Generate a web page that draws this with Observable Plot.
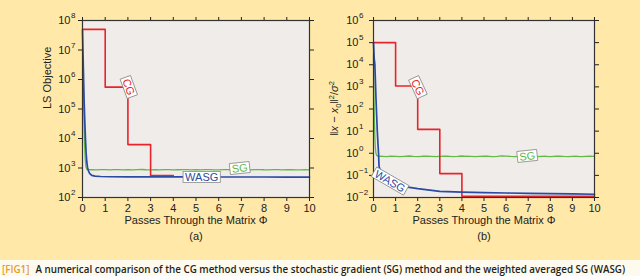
<!DOCTYPE html>
<html><head><meta charset="utf-8">
<script src="https://cdn.jsdelivr.net/npm/d3@7"></script>
<script src="https://cdn.jsdelivr.net/npm/@observablehq/plot@0.6"></script>
<style>
body{margin:0;background:#fffaee;}
#wrap{width:640px;height:276px;position:relative;overflow:hidden;}
#panels{display:flex;width:640px;height:260px;background:#ffe8a8;}
#cap{width:640px;height:16px;background:#fffaee;}
svg{display:block;}
</style></head><body>
<div id="wrap"><div id="panels"></div><div id="cap"></div></div>
<script>
// ---------- data ----------
const passTicks = [0,1,2,3,4,5,6,7,8,9,10];
const expA = [2,3,4,5,6,7,8];
const expB = [-2,-1,0,1,2,3,4,5,6];
const xLabel = "Passes Through the Matrix \u03A6";
const subLabels = ["(a)", "(b)"];
const yLabelA = "LS Objective";

// panel (a)
const cgA_x = [0,1,2,3,4];
const cgA_y = [5e7,5.5e5,6.2e3,550,550];
const wasgA_x = [0,0.02,0.04,0.07,0.1,0.13,0.16,0.19,0.22,0.26,0.32,0.41,0.55,0.8,1.2,2,3,4,5,6,7,8,9,10];
const wasgA_y = [4.6e7,1e7,2e6,2e5,4e4,1e4,3.2e3,1.6e3,1.07e3,800,650,560,530,515,505,500,500,498,497,496,495,495,494,494];
const sgA_decay_x = [0.03,0.05,0.07,0.09,0.12,0.15,0.19,0.24];
const sgA_decay_y = [1.2e6,2e5,3e4,6e3,2e3,1.1e3,900,875];
const sgA_plateau = [872,866,880,874,861,877,885,869,873,862,879,888,871,866,876,869,882,874,860,871,884,877,868,873,865,880,886,870,864,875,879,867,872,881,869,863,876,884,871,866,874,878,868,872,880,870,865,873,869];

// panel (b)
const cgB_x = [0,1,2,3,4,10];
const cgB_y = [1e5,1.1e3,12,0.12,0.0112,0.0112];
const wasgB_x = [0,0.03,0.06,0.09,0.11,0.14,0.17,0.2,0.23,0.25,0.3,0.4,0.55,0.75,1.0,1.4,2,3,4,5,6,7,8,9,10];
const wasgB_y = [1e5,2e4,1.1e4,1.5e3,350,60,11,3,0.95,0.26,0.17,0.11,0.075,0.055,0.042,0.031,0.025,0.019,0.0175,0.0165,0.016,0.0155,0.015,0.0145,0.014];
const sgB_decay_x = [0,0.01,0.02,0.04,0.06,0.08,0.11,0.15,0.2,0.26];
const sgB_decay_y = [3e4,3e3,300,40,6,2,1.0,0.8,0.74,0.72];
const sgB_plateau = [0.73,0.71,0.74,0.72,0.70,0.73,0.75,0.72,0.71,0.73,0.74,0.72,0.70,0.72,0.74,0.73,0.71,0.72,0.75,0.73,0.72,0.70,0.72,0.74,0.73,0.71,0.73,0.76,0.74,0.72,0.71,0.73,0.72,0.74,0.72,0.70,0.72,0.73,0.71,0.73,0.74,0.72,0.71,0.72,0.73,0.71,0.72,0.73,0.72];

// curve labels
const labelsA = [
  {x:2.02, y:5.5e5, text:"CG", rotate:70, color:"#e8232b"},
  {x:5.25, y:477, text:"WASG", rotate:0, color:"#2b4aa3"},
  {x:6.93, y:960, text:"SG", rotate:-6, color:"#62b946"}
];
const labelsB = [
  {x:1.99, y:950, text:"CG", rotate:65, color:"#e8232b"},
  {x:6.96, y:0.72, text:"SG", rotate:-6, color:"#62b946"},
  {x:0.74, y:0.053, text:"WASG", rotate:30, color:"#2b4aa3"}
];

const RED = "#e8232b", BLUE = "#2b4aa3", GREEN = "#62b946";

function pts(xs, ys){ return xs.map((x,i)=>({x, y:ys[i]})); }
function plateau(start, vals){ const n = vals.length; return vals.map((v,i)=>({x: start + i*(10-start)/(n-1), y:v})); }
function supText(e){ return e < 0 ? "\u2212" + (-e) : String(e); }

function panel(o){
  const marks = [
    Plot.frame({fill:"#f0ecea", stroke:null}),
    Plot.axisX({anchor:"bottom", ticks:passTicks, tickSize:4, tickPadding:3, tickFormat:d=>String(d), label:null}),
    Plot.axisX({anchor:"top", ticks:passTicks, tickSize:4, tickFormat:()=>"", label:null}),
    Plot.axisY({anchor:"left", ticks:o.exps.map(e=>10**e), tickSize:4, tickFormat:()=>"", label:null}),
    Plot.axisY({anchor:"right", ticks:o.exps.map(e=>10**e), tickSize:4, tickFormat:()=>"", label:null}),
    Plot.text(o.exps, {y:e=>10**e, frameAnchor:"left", dx:-o.expDx, text:()=>"10", textAnchor:"end", fontSize:11}),
    Plot.text(o.exps, {y:e=>10**e, frameAnchor:"left", dx:-o.expDx+0.5, dy:-5, text:supText, textAnchor:"start", fontSize:8}),
    Plot.line(o.sg, {x:"x", y:"y", stroke:GREEN, strokeWidth:1.3}),
    Plot.line(o.cg, {x:"x", y:"y", stroke:RED, strokeWidth:1.6, curve:"step-after"}),
    Plot.line(o.wasg, {x:"x", y:"y", stroke:BLUE, strokeWidth:1.7}),
    Plot.frame({stroke:"#333", strokeWidth:1.2}),
    Plot.text([xLabel], {frameAnchor:"bottom", dy:26, fontSize:11, fill:"#222"}),
    Plot.text([o.sub], {frameAnchor:"bottom", dy:42, fontSize:11, fill:"#222"})
  ];
  if (o.yLabel) marks.push(Plot.text([o.yLabel], {frameAnchor:"left", dx:-35, rotate:-90, fontSize:11, fill:"#222"}));
  for (const l of o.labels) {
    marks.push(Plot.text([l], {x:"x", y:"y", text:"text", rotate:l.rotate, fill:l.color, fontSize:11, className:"clabel"}));
  }
  return Plot.plot({
    width:320, height:260,
    marginLeft:o.ml, marginRight:o.mr, marginTop:20, marginBottom:63,
    style:{background:"#ffe8a8", fontFamily:"'Liberation Sans', Arial, sans-serif", fontSize:"11px", color:"#222", overflow:"visible"},
    x:{domain:[0,10]},
    y:{type:"log", domain:o.yDomain},
    marks
  });
}

const pA = panel({
  exps:expA, expDx:12, yDomain:[1e2,1e8], ml:82, mr:11, sub:subLabels[0], yLabel:yLabelA,
  cg:pts(cgA_x,cgA_y), wasg:pts(wasgA_x,wasgA_y),
  sg:pts(sgA_decay_x,sgA_decay_y).concat(plateau(0.4, sgA_plateau)),
  labels:labelsA
});
const pB = panel({
  exps:expB, expDx:15, yDomain:[1e-2,1e6], ml:53, mr:46, sub:subLabels[1], yLabel:null,
  cg:pts(cgB_x,cgB_y), wasg:pts(wasgB_x,wasgB_y),
  sg:pts(sgB_decay_x,sgB_decay_y).concat(plateau(0.4, sgB_plateau)),
  labels:labelsB
});
const panels = document.getElementById("panels");
panels.appendChild(pA);
panels.appendChild(pB);

// boxes behind curve labels
for (const svg of [pA, pB]) {
  d3.select(svg).selectAll("g.clabel text").each(function(){
    const bb = this.getBBox();
    const t = this.getAttribute("transform");
    const r = d3.select(this.parentNode).insert("rect", () => this)
      .attr("x", bb.x - 2).attr("y", bb.y + 0.5).attr("width", bb.width + 4).attr("height", bb.height - 1)
      .attr("fill", "#fff").attr("stroke", "#8a8a8a").attr("stroke-width", 0.8);
    if (t) r.attr("transform", t);
  });
}

// y label of panel (b) with math styling
const yl = d3.select(pB).append("text")
  .attr("transform", "translate(18,108.5) rotate(-90)")
  .attr("text-anchor", "middle")
  .attr("font-family", "'Liberation Sans', Arial, sans-serif")
  .attr("font-size", 11).attr("fill", "#222");
yl.append("tspan").text("\u2016");
yl.append("tspan").attr("font-style","italic").text("x");
yl.append("tspan").text(" \u2212 ");
yl.append("tspan").attr("font-style","italic").text("x");
yl.append("tspan").attr("font-size",7.5).attr("dy",2.5).text("0");
yl.append("tspan").attr("dy",-2.5).text("\u2016");
yl.append("tspan").attr("font-size",7.5).attr("dy",-4.5).text("2");
yl.append("tspan").attr("dy",4.5).text("/");
yl.append("tspan").attr("font-style","italic").text("\u03C3");
yl.append("tspan").attr("font-size",7.5).attr("dy",-4.5).text("2");

// caption
const capTag = "[FIG1]";
const capText = "A numerical comparison of the CG method versus the stochastic gradient (SG) method and the weighted averaged SG (WASG)";
const cap = d3.select("#cap").append("svg").attr("width",640).attr("height",16);
const FONT = "'Open Sans', 'Noto Sans', sans-serif";
const t1 = cap.append("text").attr("x",2).attr("y",12.5)
  .attr("font-family",FONT).attr("font-weight",600).attr("font-size",11)
  .attr("fill","#e49c2a").text(capTag);
const t2 = cap.append("text").attr("y",12.5)
  .attr("font-family",FONT).attr("font-weight",600).attr("font-size",11)
  .attr("fill","#231f20").text(capText);
// fit both parts into 2..626 at a common font size (no glyph stretching)
const gap = 6;
const w1 = t1.node().getComputedTextLength();
const w2 = t2.node().getComputedTextLength();
const s = Math.min(11, 11 * (624 - gap) / (w1 + w2));
t1.attr("font-size", s);
t2.attr("font-size", s).attr("x", 2 + w1 * s / 11 + gap);
</script>
</body></html>
